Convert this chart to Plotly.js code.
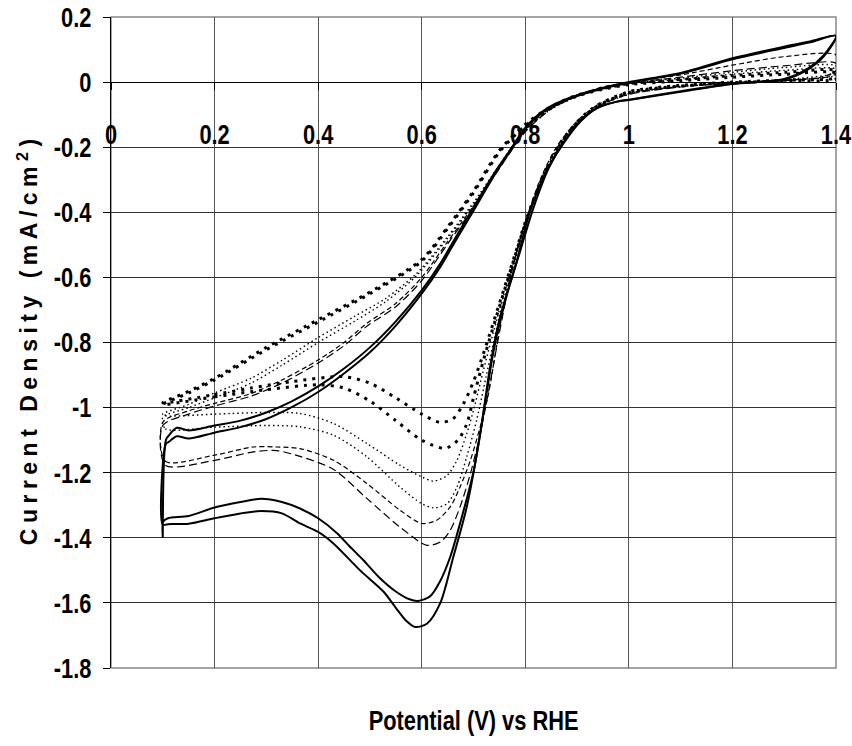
<!DOCTYPE html>
<html>
<head>
<meta charset="utf-8">
<script src="https://cdn.plot.ly/plotly-3.0.1.min.js"></script>
<style>
  html, body { margin: 0; padding: 0; background: #fff; }
  #chart { width: 852px; height: 746px; }
</style>
</head>
<body>
<div id="chart"></div>
<script>
// ---------- tick labels ----------
const xTickVals = [0, 0.2, 0.4, 0.6, 0.8, 1.0, 1.2, 1.4];
const xTickText = ['0', '0.2', '0.4', '0.6', '0.8', '1', '1.2', '1.4'];
const yTickVals = [0.2, 0, -0.2, -0.4, -0.6, -0.8, -1.0, -1.2, -1.4, -1.6, -1.8];
const yTickText = ['0.2', '0', '-0.2', '-0.4', '-0.6', '-0.8', '-1', '-1.2', '-1.4', '-1.6', '-1.8'];

// ---------- solid, cycle A ----------
const solidA_lowX = [0.1,0.101,0.11,0.15,0.2,0.25,0.29,0.33,0.365,0.4,0.436,0.46,0.4875,0.52,0.55,0.575,0.593,0.616,0.635,0.655,0.674,0.7,0.72,0.739,0.76,0.784,0.81,0.842,0.874,0.906,0.938,0.977,1.0,1.1,1.2,1.3,1.344,1.376,1.4];
const solidA_lowY = [-1.40,-1.35,-1.34,-1.333,-1.307,-1.29,-1.28,-1.29,-1.31,-1.34,-1.385,-1.425,-1.469,-1.525,-1.565,-1.588,-1.594,-1.58,-1.535,-1.459,-1.356,-1.197,-1.01,-0.824,-0.68,-0.547,-0.393,-0.27,-0.188,-0.122,-0.081,-0.06,-0.055,-0.03,-0.006,0.008,0.037,0.078,0.142];
const solidA_upX = [1.35,1.3,1.2,1.1,1.0,0.94,0.875,0.835,0.8,0.77,0.74,0.7,0.67,0.635,0.6,0.55,0.5,0.45,0.4,0.35,0.3,0.25,0.2,0.15,0.127,0.112,0.106,0.1];
const solidA_upY = [0.125,0.109,0.073,0.028,0.0,-0.022,-0.055,-0.088,-0.14,-0.21,-0.28,-0.385,-0.465,-0.56,-0.64,-0.735,-0.815,-0.88,-0.935,-0.98,-1.015,-1.04,-1.055,-1.07,-1.062,-1.085,-1.10,-1.40];

// ---------- solid, cycle B ----------
const solidB_lowX = [0.1,0.11,0.15,0.2,0.25,0.29,0.33,0.365,0.4,0.43,0.481,0.526,0.55,0.57,0.587,0.61,0.636,0.661,0.687,0.713,0.732,0.75,0.79,0.815,0.845,0.874,0.906,0.938,0.977,1.0,1.1,1.2,1.3,1.344,1.376,1.4];
const solidB_lowY = [-1.36,-1.358,-1.357,-1.34,-1.325,-1.318,-1.325,-1.356,-1.382,-1.418,-1.5,-1.565,-1.615,-1.655,-1.674,-1.664,-1.6,-1.459,-1.305,-1.08,-0.875,-0.73,-0.52,-0.39,-0.265,-0.185,-0.12,-0.08,-0.06,-0.054,-0.028,-0.005,0.01,0.04,0.082,0.142];
const solidB_upX = [1.35,1.3,1.2,1.1,1.0,0.94,0.875,0.835,0.8,0.77,0.74,0.7,0.67,0.635,0.6,0.55,0.5,0.45,0.4,0.35,0.3,0.25,0.2,0.15,0.127,0.112,0.106,0.1];
const solidB_upY = [0.122,0.105,0.07,0.026,-0.002,-0.024,-0.058,-0.092,-0.145,-0.215,-0.287,-0.395,-0.475,-0.57,-0.65,-0.748,-0.83,-0.895,-0.952,-0.998,-1.035,-1.06,-1.077,-1.095,-1.088,-1.105,-1.112,-1.36];

// ---------- dashed, cycle A ----------
const dashA_lowX = [0.1,0.105,0.2,0.275,0.32,0.365,0.43,0.494,0.558,0.6,0.629,0.655,0.674,0.694,0.713,0.729,0.75,0.775,0.8,0.83,0.86,0.9,0.94,1.0,1.1,1.2,1.3,1.37,1.4];
const dashA_lowY = [-1.045,-1.165,-1.146,-1.121,-1.121,-1.126,-1.162,-1.233,-1.315,-1.356,-1.346,-1.305,-1.244,-1.162,-1.059,-0.957,-0.76,-0.57,-0.43,-0.295,-0.2,-0.12,-0.07,-0.035,-0.013,-0.002,0.006,0.015,0.035];
const dashA_upX = [1.4,1.3,1.2,1.1,1.0,0.95,0.9,0.85,0.8,0.75,0.7,0.65,0.6,0.55,0.494,0.45,0.4,0.33,0.27,0.2,0.15,0.1];
const dashA_upY = [0.083,0.078,0.052,0.022,0.0,-0.015,-0.04,-0.08,-0.15,-0.26,-0.38,-0.49,-0.60,-0.68,-0.741,-0.80,-0.854,-0.915,-0.957,-0.987,-1.01,-1.045];

// ---------- dashed, cycle B ----------
const dashB_lowX = [0.1,0.105,0.2,0.275,0.32,0.365,0.43,0.494,0.558,0.61,0.636,0.655,0.674,0.694,0.713,0.726,0.75,0.775,0.8,0.83,0.86,0.9,0.94,1.0,1.1,1.2,1.3,1.4];
const dashB_lowY = [-1.055,-1.177,-1.162,-1.136,-1.132,-1.15,-1.19,-1.279,-1.367,-1.423,-1.413,-1.377,-1.305,-1.203,-1.08,-0.977,-0.77,-0.575,-0.435,-0.3,-0.205,-0.125,-0.075,-0.038,-0.015,-0.004,0.004,0.025];
const dashB_upX = [1.4,1.3,1.2,1.1,1.0,0.95,0.9,0.85,0.8,0.75,0.7,0.65,0.6,0.55,0.494,0.45,0.4,0.33,0.27,0.2,0.15,0.1];
const dashB_upY = [0.058,0.05,0.035,0.015,-0.003,-0.018,-0.043,-0.083,-0.153,-0.265,-0.386,-0.497,-0.61,-0.69,-0.75,-0.81,-0.863,-0.925,-0.965,-0.995,-1.02,-1.055];

// ---------- fine dotted, cycle A ----------
const dotA_lowX = [0.1,0.105,0.2,0.3,0.365,0.43,0.494,0.558,0.6,0.623,0.649,0.668,0.687,0.7,0.72,0.75,0.78,0.8,0.84,0.88,0.93,1.0,1.1,1.2,1.3,1.4];
const dotA_lowY = [-1.02,-1.025,-1.02,-1.015,-1.018,-1.049,-1.11,-1.177,-1.213,-1.226,-1.208,-1.162,-1.08,-1.008,-0.88,-0.7,-0.54,-0.43,-0.275,-0.165,-0.085,-0.035,-0.012,-0.002,0.008,0.03];
const dotA_upX = [1.4,1.3,1.2,1.1,1.0,0.95,0.9,0.85,0.8,0.75,0.7,0.65,0.59,0.53,0.47,0.4,0.33,0.27,0.2,0.15,0.1];
const dotA_upY = [0.05,0.045,0.03,0.012,-0.003,-0.017,-0.04,-0.078,-0.145,-0.255,-0.37,-0.475,-0.588,-0.665,-0.72,-0.785,-0.855,-0.91,-0.955,-0.99,-1.02];

// ---------- fine dotted, cycle B ----------
const dotB_lowX = [0.1,0.105,0.2,0.3,0.365,0.43,0.494,0.558,0.6,0.623,0.649,0.668,0.687,0.706,0.725,0.75,0.78,0.8,0.84,0.88,0.93,1.0,1.1,1.2,1.3,1.4];
const dotB_lowY = [-1.03,-1.065,-1.06,-1.055,-1.059,-1.085,-1.151,-1.244,-1.295,-1.308,-1.295,-1.244,-1.151,-1.039,-0.9,-0.72,-0.55,-0.44,-0.28,-0.17,-0.088,-0.037,-0.014,-0.003,0.006,0.022];
const dotB_upX = [1.4,1.3,1.2,1.1,1.0,0.95,0.9,0.85,0.8,0.75,0.7,0.65,0.59,0.53,0.47,0.4,0.33,0.27,0.2,0.15,0.1];
const dotB_upY = [0.04,0.036,0.024,0.008,-0.005,-0.02,-0.044,-0.083,-0.15,-0.26,-0.375,-0.48,-0.595,-0.675,-0.735,-0.8,-0.87,-0.925,-0.97,-1.0,-1.03];

// ---------- bold dotted, cycle A ----------
const boldA_lowX = [0.1,0.2,0.27,0.35,0.45,0.5,0.55,0.6,0.635,0.66,0.68,0.7,0.72,0.75,0.78,0.8,0.84,0.88,0.93,1.0,1.1,1.2,1.3,1.4];
const boldA_lowY = [-0.985,-0.96,-0.94,-0.92,-0.905,-0.925,-0.97,-1.02,-1.045,-1.035,-0.99,-0.92,-0.83,-0.68,-0.53,-0.43,-0.27,-0.16,-0.08,-0.03,-0.01,0.0,0.006,0.015];
const boldA_upX = [1.4,1.3,1.2,1.1,1.0,0.95,0.9,0.85,0.8,0.75,0.7,0.65,0.6,0.5,0.4,0.3,0.2,0.15,0.1];
const boldA_upY = [0.035,0.03,0.02,0.008,-0.005,-0.02,-0.04,-0.075,-0.13,-0.21,-0.335,-0.445,-0.545,-0.645,-0.73,-0.815,-0.91,-0.95,-0.985];

// ---------- bold dotted, cycle B ----------
const boldB_lowX = [0.1,0.2,0.3,0.4,0.45,0.5,0.55,0.6,0.645,0.67,0.687,0.7,0.72,0.75,0.78,0.8,0.84,0.88,0.93,1.0,1.1,1.2,1.3,1.4];
const boldB_lowY = [-0.99,-0.967,-0.945,-0.93,-0.94,-0.98,-1.04,-1.1,-1.125,-1.1,-1.05,-0.97,-0.85,-0.69,-0.535,-0.435,-0.275,-0.165,-0.083,-0.032,-0.012,-0.002,0.004,0.01];
const boldB_upX = [1.4,1.3,1.2,1.1,1.0,0.95,0.9,0.85,0.8,0.75,0.7,0.65,0.6,0.5,0.4,0.3,0.2,0.15,0.1];
const boldB_upY = [0.028,0.024,0.015,0.004,-0.008,-0.022,-0.043,-0.078,-0.134,-0.215,-0.34,-0.45,-0.55,-0.65,-0.737,-0.822,-0.915,-0.955,-0.99];

function loop(lx, ly, ux, uy, line) {
  return {
    type: 'scatter', mode: 'lines',
    x: lx.concat(ux), y: ly.concat(uy),
    line: Object.assign({ color: '#000', shape: 'spline', smoothing: 0.8 }, line),
    hoverinfo: 'skip', showlegend: false
  };
}

const traces = [
  loop(boldA_lowX, boldA_lowY, boldA_upX, boldA_upY, { width: 3, dash: '3px,6px' }),
  loop(boldB_lowX, boldB_lowY, boldB_upX, boldB_upY, { width: 3, dash: '3px,6px' }),
  loop(dotA_lowX, dotA_lowY, dotA_upX, dotA_upY, { width: 1.4, dash: '1.5px,3px' }),
  loop(dotB_lowX, dotB_lowY, dotB_upX, dotB_upY, { width: 1.4, dash: '1.5px,3px' }),
  loop(dashA_lowX, dashA_lowY, dashA_upX, dashA_upY, { width: 1.2, dash: '5px,3px' }),
  loop(dashB_lowX, dashB_lowY, dashB_upX, dashB_upY, { width: 1.2, dash: '8px,4px' }),
  loop(solidA_lowX, solidA_lowY, solidA_upX, solidA_upY, { width: 2 }),
  loop(solidB_lowX, solidB_lowY, solidB_upX, solidB_upY, { width: 2 })
];

const sans = 'Liberation Sans, Arial, sans-serif';
const tickFont = { family: sans, size: 28, color: '#000', weight: 'bold' };
const SQUEEZE = 0.78;   // condensed look of the original lettering

const layout = {
  width: 852, height: 746,
  margin: { l: 111, r: 16, t: 17, b: 78 },
  paper_bgcolor: '#fff', plot_bgcolor: '#fff',
  showlegend: false,
  xaxis: {
    range: [0, 1.4], tickmode: 'array', tickvals: xTickVals, ticktext: xTickText,
    anchor: 'free', position: 0.9,
    showgrid: true, gridcolor: '#555', gridwidth: 1, zeroline: false,
    showline: true, linecolor: '#000', linewidth: 1,
    ticks: 'outside', ticklen: 7, tickcolor: '#000',
    ticklabelstandoff: 20, ticklabeloverflow: 'allow',
    tickfont: tickFont, fixedrange: true
  },
  yaxis: {
    range: [-1.8, 0.2], tickmode: 'array', tickvals: yTickVals, ticktext: yTickText,
    showgrid: true, gridcolor: '#333', gridwidth: 1,
    zeroline: true, zerolinecolor: '#000', zerolinewidth: 1,
    showline: true, linecolor: '#000', linewidth: 1,
    ticks: 'outside', ticklen: 7, tickcolor: '#000',
    ticklabelstandoff: 6, ticklabeloverflow: 'allow',
    tickfont: tickFont, fixedrange: true
  },
  shapes: [{
    type: 'rect', xref: 'paper', yref: 'paper', x0: 0, x1: 1, y0: 0, y1: 1,
    line: { color: '#888', width: 1.5 }, layer: 'below'
  }],
  annotations: [
    {
      text: 'Potential (V) vs RHE', xref: 'paper', yref: 'paper',
      x: 0.5, y: -0.08, xanchor: 'center', yanchor: 'middle', showarrow: false,
      font: { family: sans, size: 28, color: '#000', weight: 'bold' }
    },
    {
      text: 'Current Density (mA/cm<sup>2</sup>)', xref: 'paper', yref: 'paper',
      x: -0.1145, y: 0.505, xanchor: 'center', yanchor: 'middle', showarrow: false,
      textangle: -90,
      font: { family: sans, size: 23, color: '#000', weight: 'bold' }
    }
  ]
};

function squeeze(nodes, sx) {
  nodes.forEach(function (t) {
    const x = parseFloat(t.getAttribute('x') || '0');
    t.setAttribute('x', x / sx);
    const tr = t.getAttribute('transform') || '';
    t.setAttribute('transform', (tr + ' scale(' + sx + ',1)').trim());
  });
}

Plotly.newPlot('chart', traces, layout, { staticPlot: true, displayModeBar: false }).then(function () {
  squeeze(document.querySelectorAll('.xtick text, .ytick text'), SQUEEZE);
  document.querySelectorAll('.annotation-text').forEach(function (t) {
    if (t.textContent.indexOf('Potential') === 0) squeeze([t], SQUEEZE);
    if (t.textContent.indexOf('Current') === 0) t.style.letterSpacing = '5.5px';
  });
});
</script>
</body>
</html>
